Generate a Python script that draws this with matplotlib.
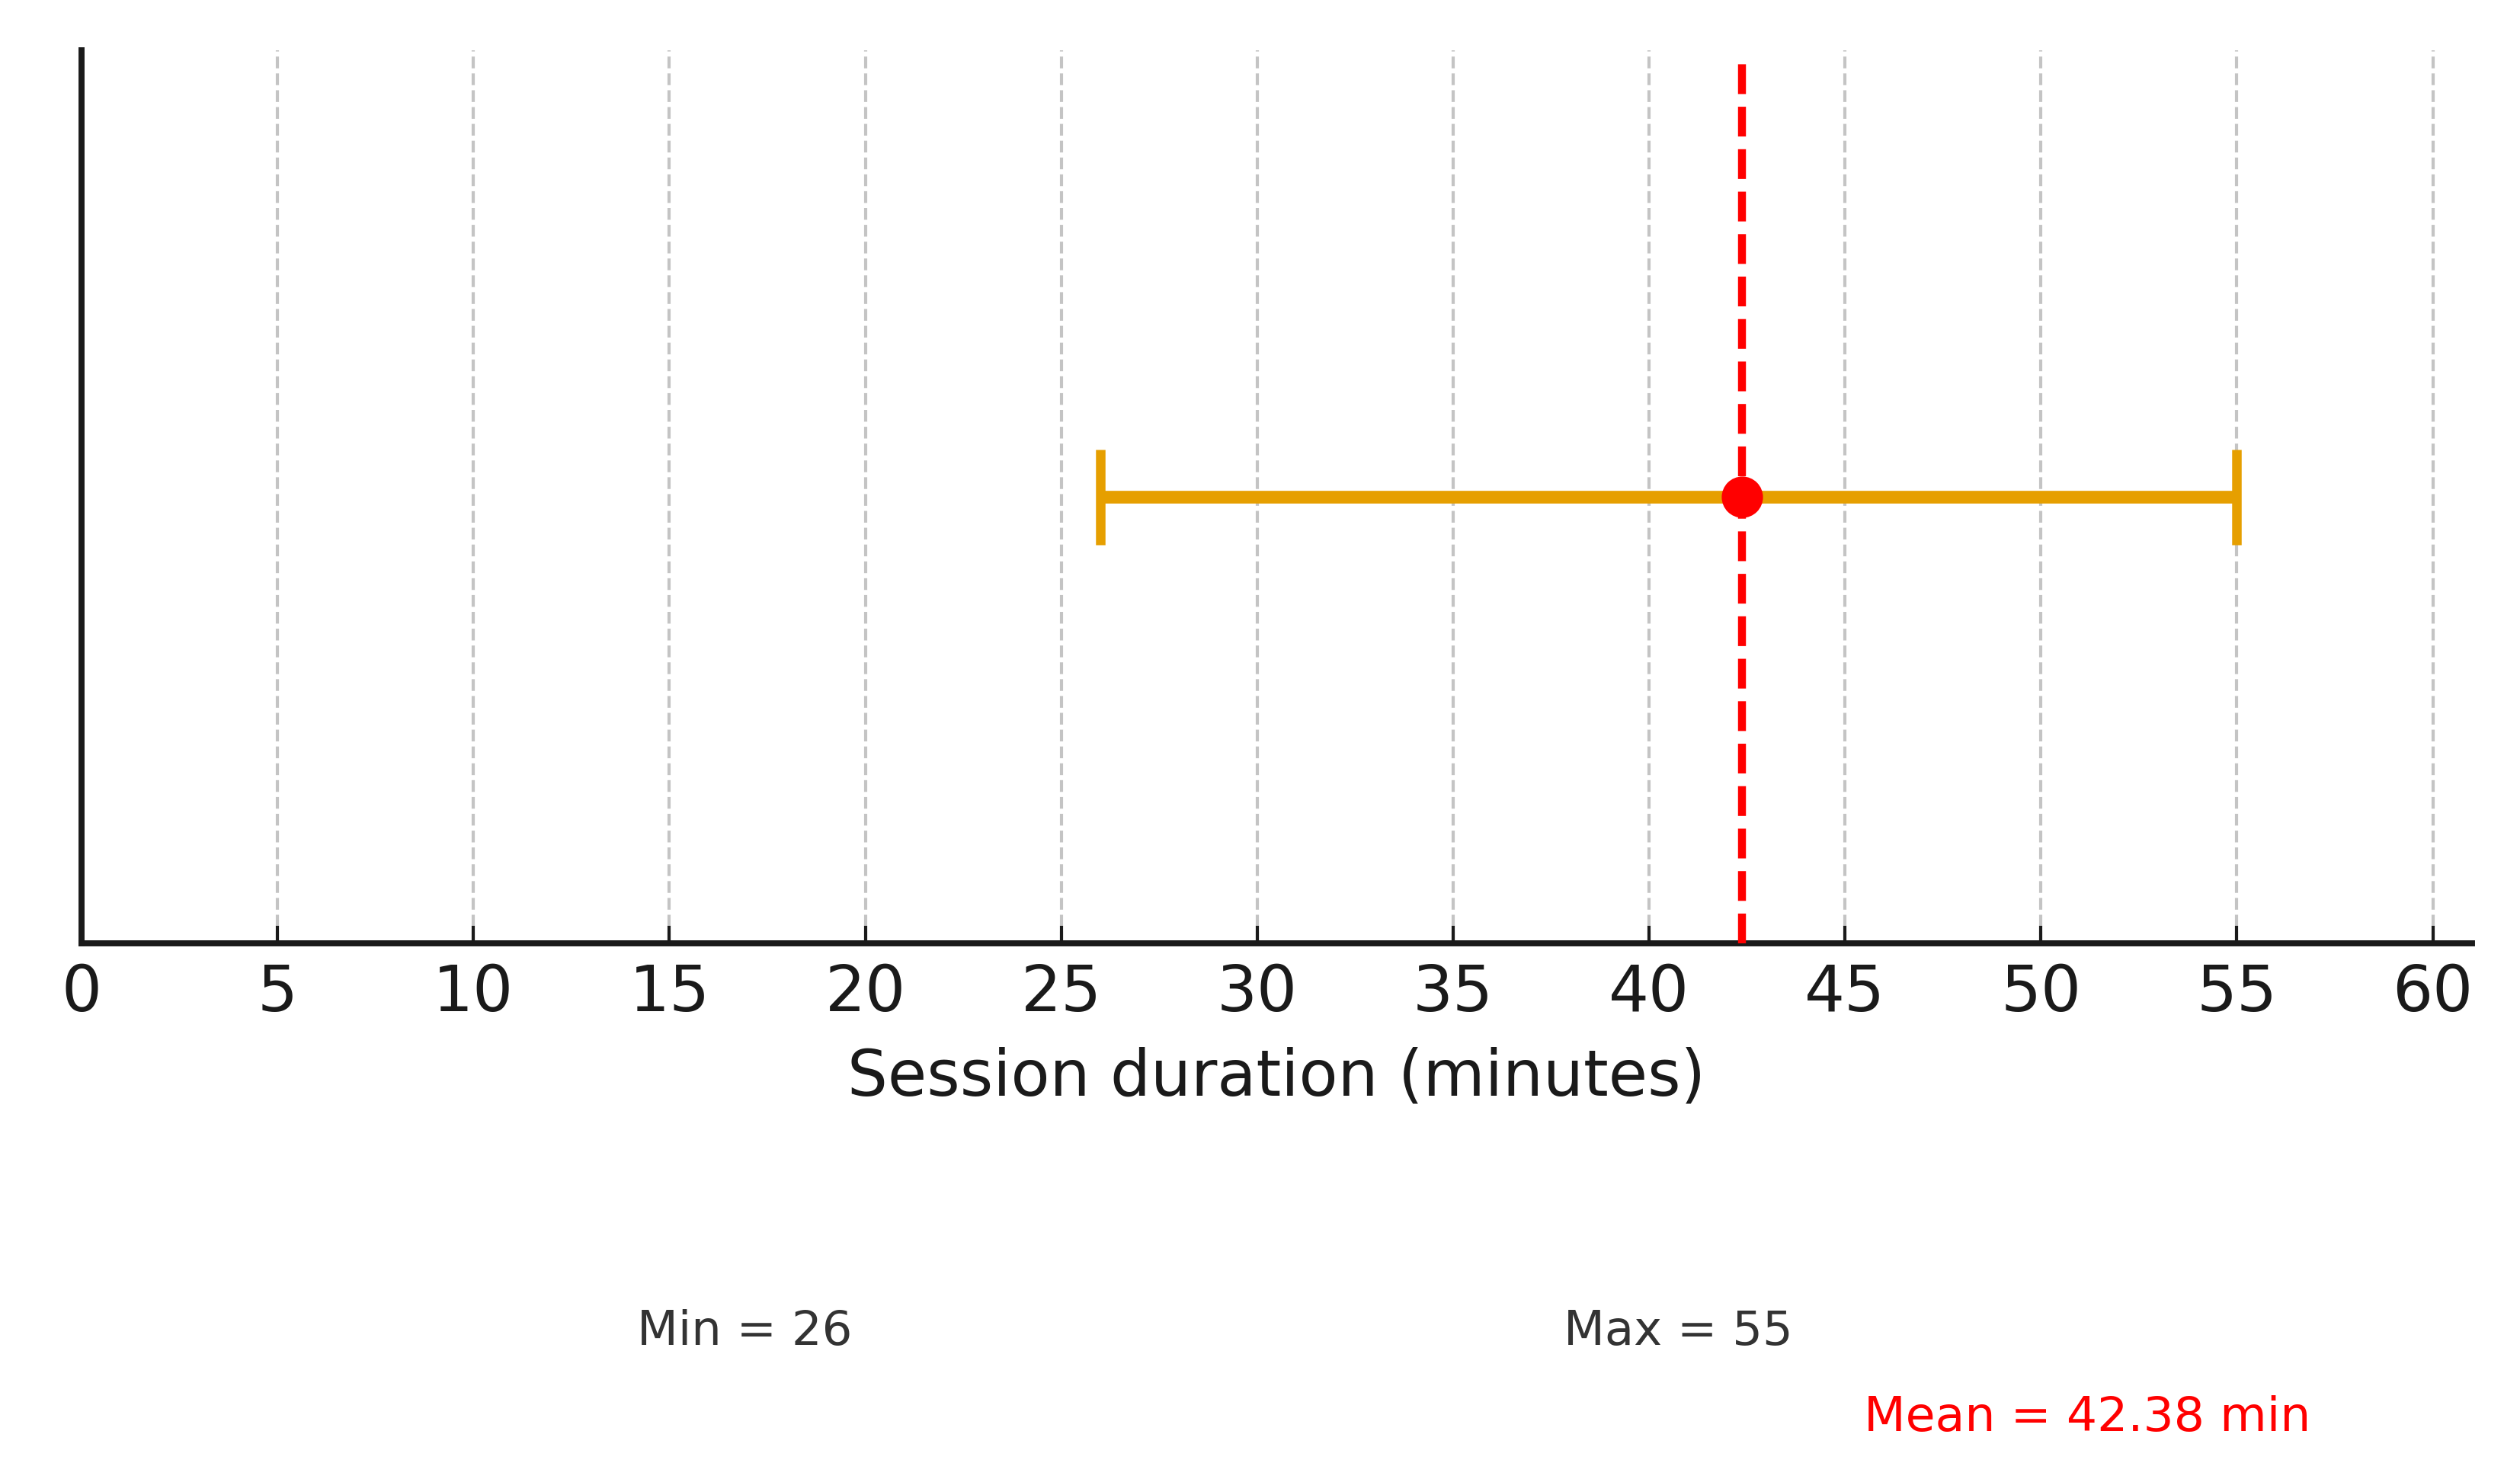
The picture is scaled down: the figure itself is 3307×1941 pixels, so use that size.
import matplotlib
matplotlib.use("Agg")
import matplotlib.pyplot as plt

# session duration summary (minutes)
min_val = 26
max_val = 55
mean_val = 42.38
x_ticks = [0, 5, 10, 15, 20, 25, 30, 35, 40, 45, 50, 55, 60]

fig = plt.figure(figsize=(3307 / 300, 1941 / 300), dpi=300)
ax = fig.add_axes([107 / 3307, 1 - 1238 / 1941, (3244 - 107) / 3307, (1238 - 66) / 1941])

# range bar with mean marker
ax.errorbar([mean_val], [0], xerr=[[mean_val - min_val], [max_val - mean_val]],
            fmt='none', ecolor='#E69F00', elinewidth=4, capsize=15, capthick=3, zorder=3)
ax.plot([mean_val], [0], 'o', color='red', markersize=12, zorder=5)
ax.axvline(mean_val, ymax=0.99, color='red', linestyle='--', linewidth=2.5,
           dashes=(3.75, 1.6), zorder=4)

ax.set_xlim(0, 61)
ax.set_ylim(-1, 1)
ax.set_xticks(x_ticks)
ax.set_yticks([])
ax.grid(axis='x', linestyle='--', color='#c4c4c4', linewidth=1)
ax.set_axisbelow(True)

for s in ['top', 'right']:
    ax.spines[s].set_visible(False)
for s in ['left', 'bottom']:
    ax.spines[s].set_linewidth(1.9)
    ax.spines[s].set_color('#1a1a1a')

ax.tick_params(axis='x', direction='in', length=5.5, width=1, colors='#1a1a1a',
               labelsize=20, pad=6)
ax.set_xlabel('Session duration (minutes)', fontsize=20, color='#1a1a1a', labelpad=7)

ax.text(0.2773, -0.4497, f'Min = {min_val}', transform=ax.transAxes,
        ha='center', va='baseline', fontsize=15, color='#333333')
ax.text(0.6681, -0.4497, f'Max = {max_val}', transform=ax.transAxes,
        ha='center', va='baseline', fontsize=15, color='#333333')
ax.text(0.839, -0.546, f'Mean = {mean_val:.2f} min', transform=ax.transAxes,
        ha='center', va='baseline', fontsize=15.2, color='red')

fig.savefig('out.png', dpi=300)
